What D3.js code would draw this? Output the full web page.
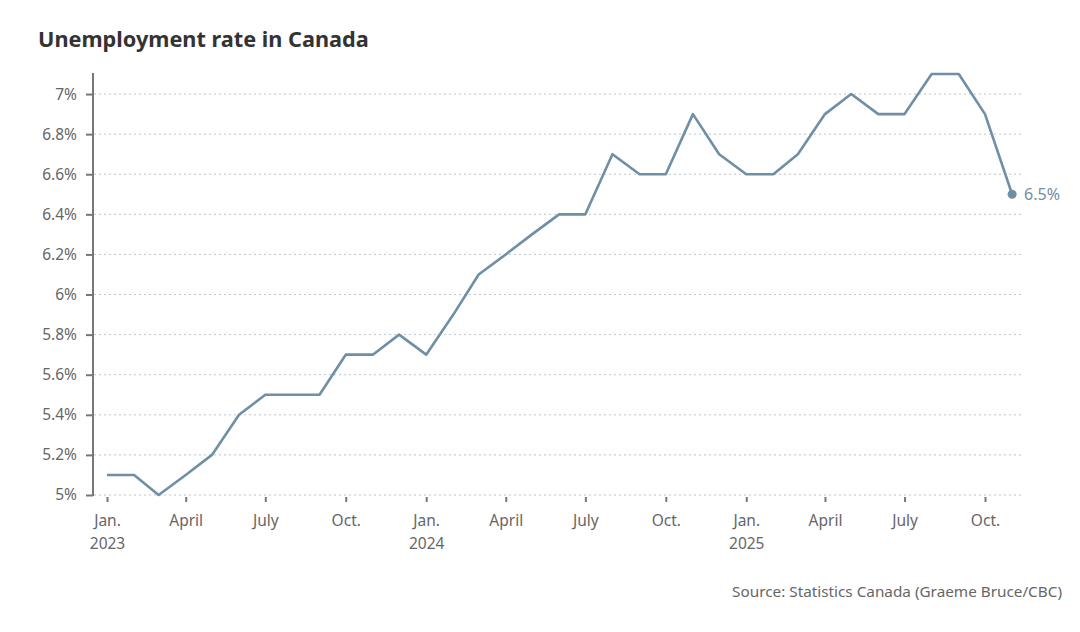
<!DOCTYPE html>
<html>
<head>
<meta charset="utf-8">
<script src="https://cdn.jsdelivr.net/npm/d3@7"></script>
<style>
  body { margin: 0; background: #fff; }
  svg, svg text { font-family: "Noto Sans", "Open Sans", sans-serif; }
</style>
</head>
<body>
<div id="chart"></div>
<script>
// monthly unemployment rate, Jan 2023 .. Nov 2025
const months = d3.range(35).map(i => new Date(2023, i, 1));
const rates = [5.1, 5.1, 5.0, 5.1, 5.2, 5.4, 5.5, 5.5, 5.5, 5.7, 5.7, 5.8,
               5.7, 5.9, 6.1, 6.2, 6.3, 6.4, 6.4, 6.7, 6.6, 6.6, 6.9, 6.7,
               6.6, 6.6, 6.7, 6.9, 7.0, 6.9, 6.9, 7.1, 7.1, 6.9, 6.5];
const yTicks = [5, 5.2, 5.4, 5.6, 5.8, 6, 6.2, 6.4, 6.6, 6.8, 7];
const xTickDates = d3.range(0, 34, 3).map(i => new Date(2023, i, 1));
const monthNames = ["Jan.", "April", "July", "Oct."];

const data = months.map((d, i) => ({ date: d, value: rates[i] }));

const svgWidth = 1080, svgHeight = 632;
const svg = d3.select("#chart").append("svg")
  .attr("width", svgWidth)
  .attr("height", svgHeight);

// title
svg.append("text")
  .attr("x", 38)
  .attr("y", 47)
  .attr("font-size", "21.7px")
  .attr("font-weight", "bold")
  .attr("fill", "#333")
  .text("Unemployment rate in Canada");

const xScale = d3.scaleTime()
  .domain([new Date(2023, 0, 1), new Date(2025, 9, 1)])
  .range([107, 985]);

const yScale = d3.scaleLinear()
  .domain([5, 7.1])
  .range([495, 74]);

// gridlines
svg.append("g")
  .selectAll("line")
  .data(yTicks)
  .enter().append("line")
  .attr("x1", 94)
  .attr("x2", 1024)
  .attr("y1", d => yScale(d))
  .attr("y2", d => yScale(d))
  .attr("stroke", "#b9c4cc")
  .attr("stroke-width", 1)
  .attr("stroke-dasharray", "2,3");

// y axis
const yAxis = svg.append("g")
  .attr("transform", "translate(93,0)")
  .call(d3.axisLeft(yScale).tickValues(yTicks).tickSize(7).tickSizeOuter(0).tickFormat(d => d + "%"));
yAxis.attr("font-family", null);
yAxis.select(".domain").attr("stroke", "#777").attr("stroke-width", 2)
  .attr("d", `M0,${yScale(7.1) - 1}V${yScale(5) + 1}`);
yAxis.selectAll(".tick line").attr("stroke", "#777").attr("stroke-width", 2);
yAxis.selectAll("text")
  .attr("font-size", "15.5px")
  .attr("fill", "#666")
  .attr("x", -16);

// x axis
const xAxis = svg.append("g")
  .attr("transform", "translate(0,497)")
  .call(d3.axisBottom(xScale).tickValues(xTickDates).tickSize(5).tickSizeOuter(0).tickFormat(""));
xAxis.attr("font-family", null);
xAxis.select(".domain").remove();
xAxis.selectAll(".tick line").attr("stroke", "#777").attr("stroke-width", 2);
xAxis.selectAll(".tick").each(function(d) {
  const t = d3.select(this).append("text")
    .attr("fill", "#666")
    .attr("font-size", "15.5px")
    .attr("text-anchor", "middle");
  t.append("tspan").attr("x", 0).attr("y", 29).text(monthNames[d.getMonth() / 3]);
  if (d.getMonth() === 0) {
    t.append("tspan").attr("x", 0).attr("y", 52).text(d.getFullYear());
  }
});

// line
const line = d3.line()
  .x(d => xScale(d.date))
  .y(d => yScale(d.value));

svg.append("path")
  .datum(data)
  .attr("fill", "none")
  .attr("stroke", "#6f8fa4")
  .attr("stroke-width", 2.6)
  .attr("stroke-linejoin", "round")
  .attr("d", line);

// last point label
const last = data[data.length - 1];
svg.append("circle")
  .attr("cx", xScale(last.date))
  .attr("cy", yScale(last.value))
  .attr("r", 4.5)
  .attr("fill", "#6f8fa4");
svg.append("text")
  .attr("x", xScale(last.date) + 12)
  .attr("y", yScale(last.value) + 6)
  .attr("font-size", "16px")
  .attr("fill", "#6f8fa4")
  .text(last.value + "%");

// source
svg.append("text")
  .attr("x", 1062)
  .attr("y", 597)
  .attr("text-anchor", "end")
  .attr("font-size", "15.3px")
  .attr("fill", "#666")
  .text("Source: Statistics Canada (Graeme Bruce/CBC)");
</script>
</body>
</html>
